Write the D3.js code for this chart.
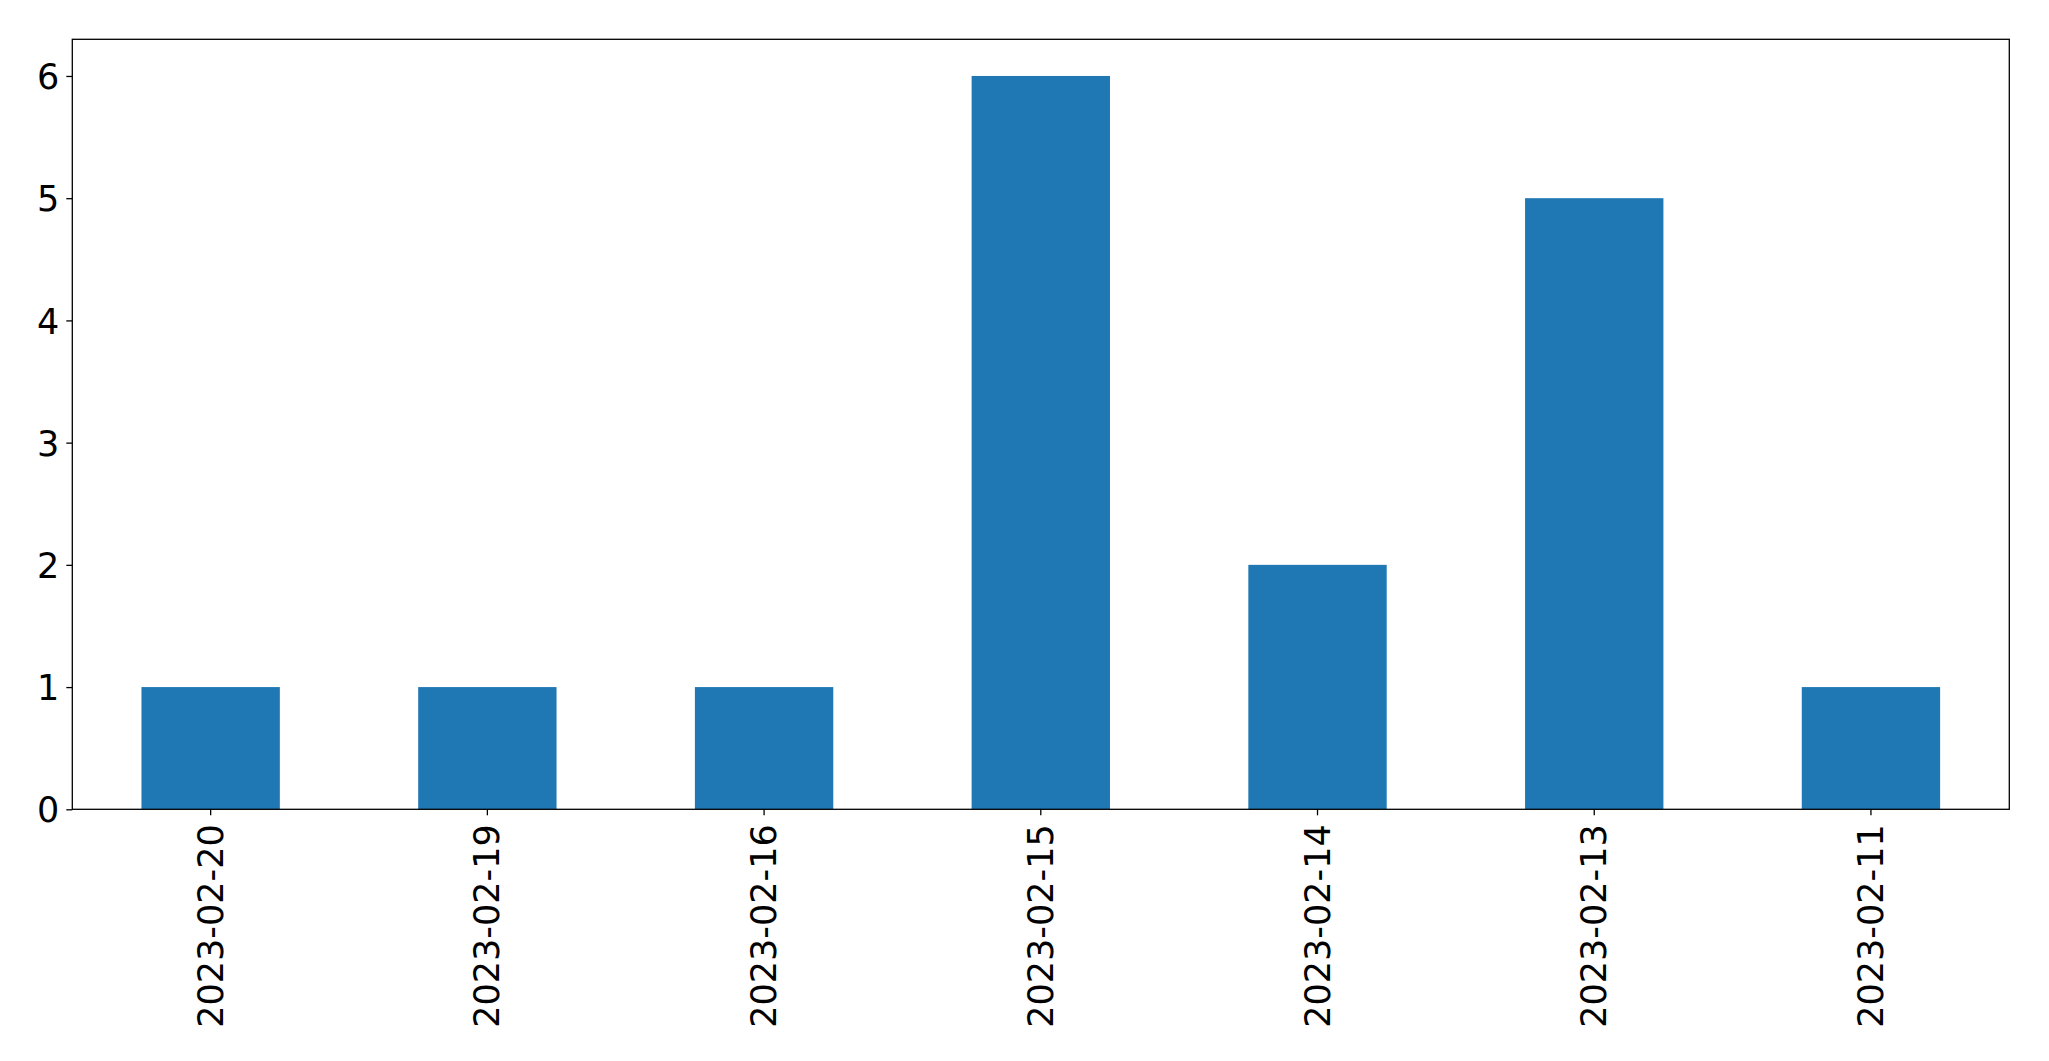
<!DOCTYPE html>
<html>
<head>
<meta charset="utf-8">
<script src="https://cdn.jsdelivr.net/npm/d3@7"></script>
<style>
  html, body { margin: 0; padding: 0; background: #fff; }
  svg { display: block; }
</style>
</head>
<body>
<script>
const categories = ["2023-02-20", "2023-02-19", "2023-02-16", "2023-02-15", "2023-02-14", "2023-02-13", "2023-02-11"];
const values = [1, 1, 1, 6, 2, 5, 1];
const yTicks = [0, 1, 2, 3, 4, 5, 6];

const W = 2049, H = 1061;
const margin = { left: 72.3, right: W - 2009.3, top: 39.3, bottom: H - 809.3 };
const iw = W - margin.left - margin.right;
const ih = H - margin.top - margin.bottom;

const svg = d3.select("body").append("svg").attr("width", W).attr("height", H);
const g = svg.append("g").attr("transform", `translate(${margin.left},${margin.top})`);

const x = d3.scaleBand().domain(categories).range([0, iw]).paddingInner(0.5).paddingOuter(0.25);
const y = d3.scaleLinear().domain([0, 6.3]).range([ih, 0]);

g.selectAll("rect.bar").data(categories).enter().append("rect")
  .attr("class", "bar")
  .attr("x", d => x(d))
  .attr("width", x.bandwidth())
  .attr("y", (d, i) => y(values[i]))
  .attr("height", (d, i) => y(0) - y(values[i]))
  .attr("fill", "#1f77b4");

const font = "DejaVu Sans, sans-serif";
const fs = 35;

const yAxis = g.append("g").call(d3.axisLeft(y).tickValues(yTicks).tickFormat(d3.format("d")).tickSize(6).tickPadding(7));
yAxis.select(".domain").remove();
yAxis.selectAll("line").attr("stroke", "#000").attr("stroke-width", 1.3);
yAxis.selectAll("text").attr("font-family", font).attr("font-size", fs).attr("fill", "#000").attr("dy", "0.36em");

const xAxis = g.append("g").attr("transform", `translate(0,${ih})`)
  .call(d3.axisBottom(x).tickSize(6).tickPadding(0));
xAxis.select(".domain").remove();
xAxis.selectAll("line").attr("stroke", "#000").attr("stroke-width", 1.3);
xAxis.selectAll("text")
  .attr("font-family", font).attr("font-size", fs).attr("fill", "#000")
  .attr("text-anchor", "end")
  .attr("dy", null)
  .attr("dominant-baseline", "central")
  .attr("transform", "translate(0,15) rotate(-90)")
  .attr("x", 0).attr("y", 0);

g.append("rect").attr("x", 0).attr("y", 0).attr("width", iw).attr("height", ih)
  .attr("fill", "none").attr("stroke", "#000").attr("stroke-width", 1.3);
</script>
</body>
</html>
